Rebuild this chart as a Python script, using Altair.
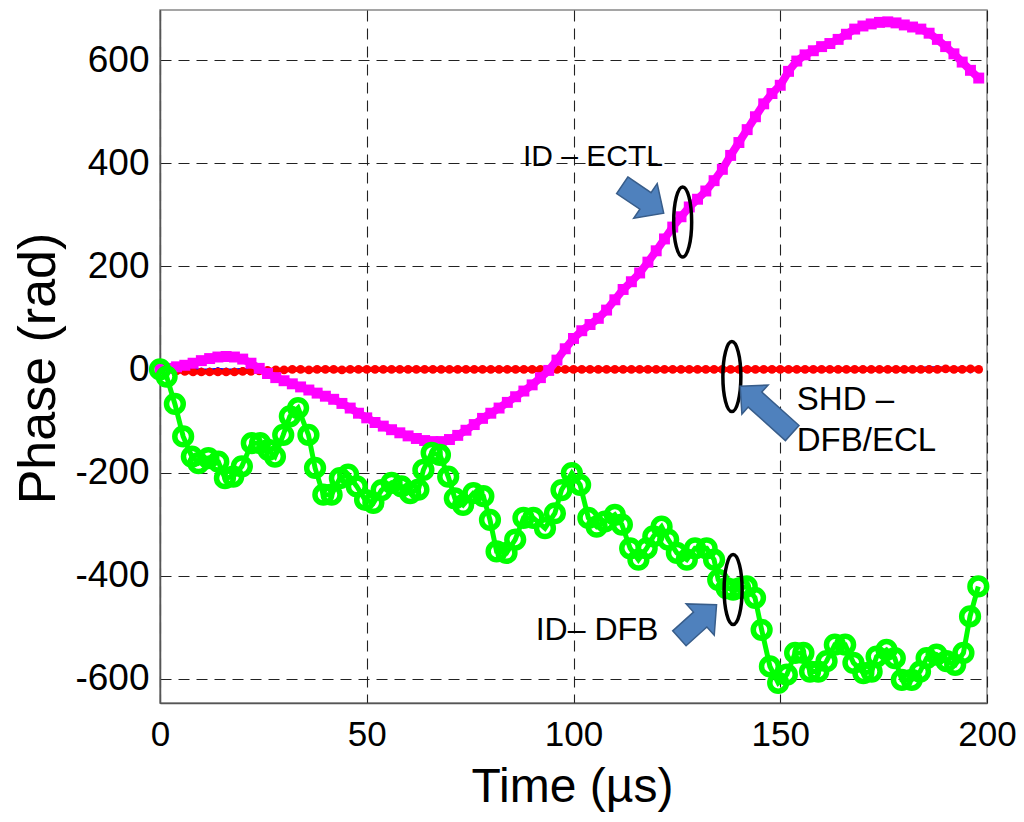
import altair as alt
import pandas as pd

FONT = "Liberation Sans"

# ---------------- data ----------------
time_us = [0, 2, 4, 6, 8, 10, 12, 14, 16, 18, 20, 22, 24, 26, 28, 30, 32, 34, 36, 38,
           40, 42, 44, 46, 48, 50, 52, 54, 56, 58, 60, 62, 64, 66, 68, 70, 72, 74, 76, 78,
           80, 82, 84, 86, 88, 90, 92, 94, 96, 98, 100, 102, 104, 106, 108, 110, 112, 114, 116, 118,
           120, 122, 124, 126, 128, 130, 132, 134, 136, 138, 140, 142, 144, 146, 148, 150, 152, 154, 156, 158,
           160, 162, 164, 166, 168, 170, 172, 174, 176, 178, 180, 182, 184, 186, 188, 190, 192, 194, 196, 198]

id_ectl = [0, 2, 5, 8, 12, 17, 21, 24, 25, 24, 20, 12, 2, -8, -16, -22, -28, -34, -40, -46,
           -52, -58, -66, -75, -85, -94, -103, -110, -117, -123, -129, -134, -138, -140, -140, -136, -128, -118, -107, -95,
           -85, -75, -64, -53, -42, -30, -16, -2, 18, 40, 60, 75, 87, 99, 115, 135, 155, 170, 187, 208,
           230, 253, 276, 296, 315, 330, 346, 366, 388, 415, 440, 465, 490, 515, 535, 551, 578, 598, 610, 618,
           626, 632, 640, 650, 660, 666, 670, 673, 674, 672, 668, 664, 660, 652, 640, 626, 612, 596, 580, 565]

shd_red = [0, -1, -3, -4, -5, -5, -5, -5, -5, -5, -4, -4, -3, -2, -1, -1, 0, 0, -1, 0,
           0, 0, -1, 0, 0, 0, 0, 0, 0, 0, 0, 0, 0, 0, 0, 0, 0, 0, 0, 0,
           0, 0, 0, 0, 0, 0, 0, 0, 0, 0, 0, 0, 0, 0, 0, 0, 0, 0, 0, 0,
           0, 0, 0, 0, 0, 0, 0, 0, 0, 0, 0, 0, 0, 0, 0, 0, 0, 0, 0, 0,
           0, 0, 0, 0, 0, 0, 0, 0, 0, 0, 0, 0, 0, 0, 0, 1, 0, 0, 1, 0]

shd_blue = [0, 0, 1, 0, 1, 0, 0, 1, 0, 0, 1, 0, 0, 1, 0, 0, 1, 0, 0, 1,
            0, 0, 1, 0, 0, 1, 0, 0, 1, 0, 0, 1, 0, 0, 1, 0, 0, 1, 0, 0,
            1, 0, 0, 1, 0, 0, 1, 0, 0, 1, 0, 0, 1, 0, 0, 1, 0, 0, 1, 0,
            0, 1, 0, 0, 1, 0, 0, 1, 0, 0, 1, 0, 0, 1, 0, 0, 1, 0, 0, 1,
            0, 1, 0, 0, 1, 0, 0, 1, 0, 0, 1, 0, 3, 4, 4, 3, 2, 4, -4, 3]

dfb_t = [0, 1.6, 3.6, 5.6, 7.7, 9.3, 11.7, 14.1, 15.7, 17.7, 19.8, 22.2, 24.2, 26.2, 27.8, 29.8, 31.4, 33.4, 35.9, 37.5,
         39.5, 41.5, 43.5, 45.5, 47.6, 49.6, 51.6, 53.6, 56.0, 58.4, 60.5, 62.5, 63.7, 65.7, 67.7, 69.7, 71.3, 73.3, 75.8, 78.2,
         79.8, 81.4, 83.8, 85.9, 87.9, 90.3, 93.1, 95.5, 97.1, 99.6, 101.6, 103.6, 105.6, 107.6, 110.0, 111.7, 113.7, 115.7, 117.7, 119.3,
         121.3, 122.9, 125.0, 127.4, 129.4, 132.2, 134.0, 135.0, 137.0, 138.6, 140.3, 141.9, 143.9, 145.5, 147.5, 149.5, 151.6, 153.6, 155.6, 157.2,
         159.2, 161.2, 163.2, 165.7, 167.7, 170.1, 172.1, 173.3, 175.7, 177.7, 179.4, 181.8, 183.8, 185.4, 187.8, 190.2, 192.3, 194.3, 195.9, 197.9]

id_dfb = [0, -14, -67, -130, -169, -182, -172, -179, -211, -208, -188, -143, -143, -156, -169, -127, -91, -75, -127, -191,
          -243, -243, -211, -204, -227, -253, -259, -234, -220, -227, -240, -233, -195, -162, -166, -208, -250, -263, -240, -246,
          -292, -353, -356, -330, -288, -288, -308, -279, -234, -201, -224, -288, -305, -295, -282, -301, -347, -369, -347, -324,
          -305, -330, -356, -369, -347, -347, -369, -408, -424, -427, -424, -421, -443, -505, -576, -608, -592, -550, -550, -586,
          -586, -566, -534, -534, -569, -589, -586, -557, -544, -560, -602, -602, -586, -560, -553, -566, -573, -550, -479, -421]

x_ticks = [0, 50, 100, 150, 200]
y_ticks = [-600, -400, -200, 0, 200, 400, 600]

# annotation anchors (data units)
label_text = ["ID \u2013 ECTL", "SHD \u2013", "DFB/ECL", "ID\u2013 DFB"]
label_x = [104.7, 154.0, 154.0, 105.7]
label_y = [412, -60, -138, -505]
label_align = ["center", "left", "left", "center"]
label_size = [30, 33, 33, 32]

ellipse_x = [126.4, 138.3, 138.6]
ellipse_y = [286, -14, -427]

arrow_x = [116.8, 130.1, 146.6]
arrow_y = [330, -489, -78]
arrow_angle = [34, 318, 222]

# ---------------- chart ----------------
df = pd.DataFrame({"t": time_us, "ectl": id_ectl, "red": shd_red, "blue": shd_blue})
dg = pd.DataFrame({"t": dfb_t, "phase": id_dfb})

xs = alt.Scale(domain=[0, 200], nice=False, zero=False)
ys = alt.Scale(domain=[-647, 697], nice=False, zero=False)

LABEL_EXPR = "'' + datum.value"

xax = alt.Axis(values=x_ticks, title="Time (\u00b5s)", grid=True, gridDash=[11, 7], gridColor="#222",
               gridWidth=1.1, ticks=False, labelFontSize=35, labelFont=FONT, labelPadding=14,
               labelFlush=False, labelOverlap=False, labelColor="black", labelExpr=LABEL_EXPR,
               titleFontSize=48, titleFont=FONT, titleFontWeight="normal", titleColor="black",
               titleX=412, titleY=84, titleBaseline="middle", titleAlign="center",
               domainColor="#555", domainWidth=1.5)
yax = alt.Axis(values=y_ticks, title="Phase (rad)", grid=True, gridDash=[11, 7], gridColor="#222",
               gridWidth=1.1, ticks=False, labelFontSize=37, labelFont=FONT, labelPadding=11,
               labelFlush=False, labelOverlap=False, labelColor="black", labelExpr=LABEL_EXPR,
               titleFontSize=52, titleFont=FONT, titleFontWeight="normal", titleColor="black",
               titleAngle=270, titleX=-122, titleY=358, titleBaseline="middle", titleAlign="center",
               domainColor="#555", domainWidth=1.5)


def X(field):
    return alt.X(f"{field}:Q", scale=xs, axis=xax)


def Y(field):
    return alt.Y(f"{field}:Q", scale=ys, axis=yax)


base = alt.Chart(df)

blue_line = base.mark_line(color="#0000ff", strokeWidth=2).encode(x=X("t"), y=Y("blue"))
blue_pts = base.mark_point(color="#0000ff", filled=True, size=16, opacity=1).encode(x=X("t"), y=Y("blue"))

red_line = base.mark_line(color="#ff0000", strokeWidth=5).encode(x=X("t"), y=Y("red"))
red_pts = base.mark_point(color="#ff0000", filled=True, shape="circle", size=75, opacity=1).encode(
    x=X("t"), y=Y("red"))

mag_line = base.mark_line(color="#ff00ff", strokeWidth=8).encode(x=X("t"), y=Y("ectl"))
mag_pts = base.mark_point(color="#ff00ff", filled=True, shape="square", size=120, opacity=1).encode(
    x=X("t"), y=Y("ectl"))

gbase = alt.Chart(dg)
green_line = gbase.mark_line(color="#00ff00", strokeWidth=5).encode(x=X("t"), y=Y("phase"))
green_pts = gbase.mark_point(color="#00ff00", filled=False, shape="circle", size=280, strokeWidth=5.5,
                             opacity=1).encode(x=X("t"), y=Y("phase"))

ELLIPSE = ("M 0 -1 C 0.142 -1 0.257 -0.552 0.257 0 C 0.257 0.552 0.142 1 0 1 "
           "C -0.142 1 -0.257 0.552 -0.257 0 C -0.257 -0.552 -0.142 -1 0 -1 Z")
de = pd.DataFrame({"ex": ellipse_x, "ey": ellipse_y})
ellipses = alt.Chart(de).mark_point(shape=ELLIPSE, size=4900, filled=False, stroke="black",
                                    strokeWidth=3.5, opacity=1).encode(x=X("ex"), y=Y("ey"))

ARROW_SHORT = "M -1 -0.4 L 0.12 -0.4 L 0.12 -0.84 L 1 0 L 0.12 0.84 L 0.12 0.4 L -1 0.4 Z"
ARROW_LONG = "M -1 -0.29 L 0.43 -0.29 L 0.43 -0.56 L 1 0 L 0.43 0.56 L 0.43 0.29 L -1 0.29 Z"
arrow_shapes = [ARROW_SHORT, ARROW_SHORT, ARROW_LONG]
arrow_sizes = [2500, 2500, 4900]

arrows = []
for i in range(3):
    da = pd.DataFrame({"ax": [arrow_x[i]], "ay": [arrow_y[i]]})
    arrows.append(
        alt.Chart(da).mark_point(shape=arrow_shapes[i], size=arrow_sizes[i], filled=True,
                                 fill="#4f81bd", stroke="#385d8a", strokeWidth=1.5, opacity=1,
                                 angle=arrow_angle[i]).encode(x=X("ax"), y=Y("ay"))
    )

texts = []
for i in range(len(label_text)):
    dt = pd.DataFrame({"lx": [label_x[i]], "ly": [label_y[i]], "txt": [label_text[i]]})
    texts.append(
        alt.Chart(dt).mark_text(font=FONT, fontSize=label_size[i], align=label_align[i],
                                baseline="middle", color="black").encode(
            x=X("lx"), y=Y("ly"), text="txt:N")
    )

chart = alt.layer(
    blue_line, blue_pts, red_line, red_pts, mag_line, mag_pts, green_line, green_pts,
    ellipses, *arrows, *texts
).properties(
    width=827, height=693,
    autosize=alt.AutoSizeParams(type="none"),
    padding={"left": 152, "top": 2, "right": 29, "bottom": 110},
    background="white",
).configure_view(stroke="#888", strokeWidth=1.5)

chart.save("out.html", embed_options={"renderer": "svg", "actions": False})
